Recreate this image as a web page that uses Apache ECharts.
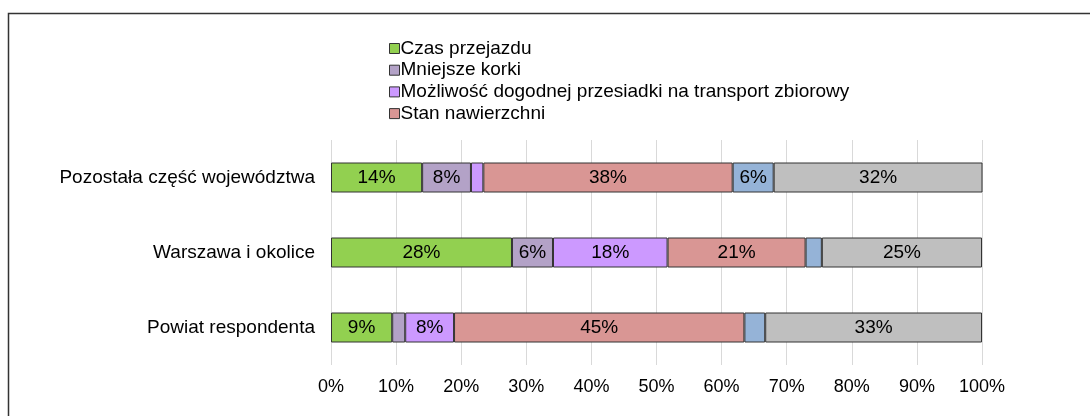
<!DOCTYPE html>
<html>
<head>
<meta charset="utf-8">
<script src="https://cdn.jsdelivr.net/npm/echarts@6/dist/echarts.min.js"></script>
<style>
html,body{margin:0;padding:0;background:#fff;}
#chart{width:1090px;height:416px;}
</style>
</head>
<body>
<div id="chart"></div>
<script>
const categories = ['Powiat respondenta', 'Warszawa i okolice', 'Pozostała część województwa'];
const seriesNames = ['Czas przejazdu', 'Mniejsze korki', 'Możliwość dogodnej przesiadki na transport zbiorowy', 'Stan nawierzchni', 'Inne', 'Trudno powiedzieć'];
const legendNames = ['Czas przejazdu', 'Mniejsze korki', 'Możliwość dogodnej przesiadki na transport zbiorowy', 'Stan nawierzchni'];
const czasPrzejazdu = [9.4, 27.8, 14.0];
const mniejszeKorki = [2.0, 6.3, 7.5];
const przesiadka = [7.5, 17.6, 1.9];
const stanNawierzchni = [44.6, 21.2, 38.3];
const inne = [3.2, 2.5, 6.3];
const trudnoPowiedziec = [33.3, 24.6, 32.1];
const xTickLabels = ['0%', '10%', '20%', '30%', '40%', '50%', '60%', '70%', '80%', '90%', '100%'];
const colors = ['#92D050', '#B3A2C7', '#CC99FF', '#D99694', '#95B3D7', '#BFBFBF'];

const allValues = [czasPrzejazdu, mniejszeKorki, przesiadka, stanNawierzchni, inne, trudnoPowiedziec];
const FONT = '"Liberation Sans", Arial, sans-serif';

const chart = echarts.init(document.getElementById('chart'), null, {renderer: 'canvas'});
chart.setOption({
  animation: false,
  backgroundColor: '#fff',
  color: colors,
  graphic: [{
    type: 'rect',
    shape: {x: 8.5, y: 13.5, width: 1200, height: 600},
    style: {fill: 'none', stroke: '#333', lineWidth: 1.5},
    silent: true
  }],
  legend: {
    data: legendNames,
    orient: 'vertical',
    left: 384,
    top: 34,
    itemWidth: 10,
    itemHeight: 10,
    itemGap: 2.7,
    icon: 'rect',
    textStyle: {fontFamily: FONT, fontSize: 19, color: '#000', padding: [0, 0, 0, -4]},
    itemStyle: {borderColor: '#333', borderWidth: 1}
  },
  grid: {left: 331, right: 108, top: 140, bottom: 51, containLabel: false},
  xAxis: {
    type: 'value',
    min: 0,
    max: 100,
    interval: 10,
    axisLine: {show: false},
    axisTick: {show: false},
    splitLine: {show: true, lineStyle: {color: '#D9D9D9', width: 1}},
    axisLabel: {
      fontFamily: FONT, fontSize: 18, color: '#000', margin: 13,
      formatter: function (v) { return xTickLabels[Math.round(v / 10)]; }
    }
  },
  yAxis: {
    type: 'category',
    data: categories,
    axisLine: {show: false},
    axisTick: {show: false},
    axisLabel: {fontFamily: FONT, fontSize: 19, color: '#000', margin: 16}
  },
  series: seriesNames.map(function (name, i) {
    return {
      name: name,
      type: 'bar',
      stack: 'total',
      barWidth: 30,
      data: allValues[i],
      itemStyle: {color: colors[i], borderColor: '#333', borderWidth: 1},
      label: {
        show: true,
        position: 'inside',
        fontFamily: FONT,
        fontSize: 19,
        color: '#000',
        formatter: function (p) { return p.value >= 4 ? Math.round(p.value) + '%' : ''; }
      }
    };
  })
});
</script>
</body>
</html>
